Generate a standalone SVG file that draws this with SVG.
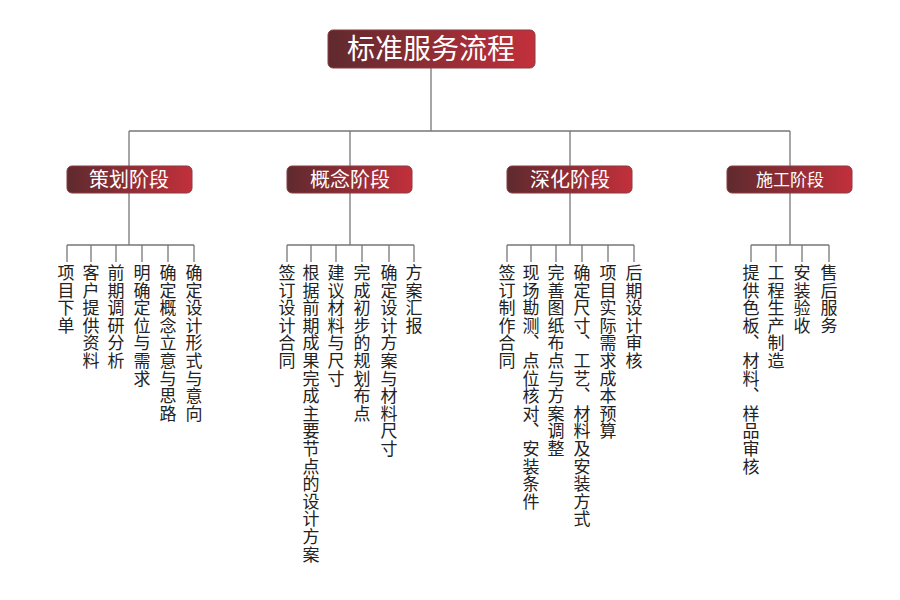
<svg xmlns="http://www.w3.org/2000/svg" width="900" height="600" viewBox="0 0 900 600">
<defs>
<linearGradient id="g" x1="0" y1="0" x2="1" y2="0"><stop offset="0" stop-color="#5e2a2e"/><stop offset="1" stop-color="#c2303b"/></linearGradient>
<style>
.box{fill:url(#g);stroke:#8a3a40;stroke-width:1}
.t{fill:#fff;font-family:"Noto Sans CJK SC",sans-serif;text-anchor:middle}
.c{font-family:"Noto Sans CJK SC",sans-serif;font-size:17px;fill:#222;writing-mode:vertical-rl;letter-spacing:0.6px}
.ln{stroke:#777;stroke-width:1.3;fill:none}
</style>
</defs>
<rect width="900" height="600" fill="#fff"/>
<g id="connectors" class="ln">
<path d="M431 68V131M129 131H790M129 131V166M350 131V166M570 131V166M790 131V166"/>
<path d="M129 193V245M67 245H194M67 245V262M91 245V262M116 245V262M142 245V262M168 245V262M194 245V262"/>
<path d="M350 193V245M287 245H414M287 245V262M311 245V262M336 245V262M362 245V262M389 245V262M414 245V262"/>
<path d="M570 193V245M507 245H634M507 245V262M531 245V262M556 245V262M582 245V262M608 245V262M634 245V262"/>
<path d="M790 193V245M751 245H829M751 245V262M776 245V262M802 245V262M829 245V262"/>
</g>
<g id="title"><rect class="box" x="328" y="30" width="207" height="38" rx="5"/><text class="t" x="431" y="59" font-size="28">标准服务流程</text></g>
<g id="p1"><rect class="box" x="67" y="166" width="125" height="27" rx="5"/><text class="t" x="129" y="187" font-size="20">策划阶段</text></g>
<g id="p2"><rect class="box" x="287" y="166" width="125" height="27" rx="5"/><text class="t" x="350" y="187" font-size="20">概念阶段</text></g>
<g id="p3"><rect class="box" x="507" y="166" width="125" height="27" rx="5"/><text class="t" x="570" y="187" font-size="20">深化阶段</text></g>
<g id="p4"><rect class="box" x="727" y="166" width="125" height="27" rx="5"/><text class="t" x="790" y="186" font-size="17">施工阶段</text></g>
<g id="c1">
<text class="c" x="66" y="264">项目下单</text>
<text class="c" x="91" y="264">客户提供资料</text>
<text class="c" x="116" y="264">前期调研分析</text>
<text class="c" x="142" y="264">明确定位与需求</text>
<text class="c" x="168" y="264">确定概念立意与思路</text>
<text class="c" x="194" y="264">确定设计形式与意向</text>
</g>
<g id="c2">
<text class="c" x="287" y="264">签订设计合同</text>
<text class="c" x="311" y="264">根据前期成果完成主要节点的设计方案</text>
<text class="c" x="336" y="264">建议材料与尺寸</text>
<text class="c" x="362" y="264">完成初步的规划布点</text>
<text class="c" x="389" y="264">确定设计方案与材料尺寸</text>
<text class="c" x="414" y="264">方案汇报</text>
</g>
<g id="c3">
<text class="c" x="507" y="264">签订制作合同</text>
<text class="c" x="531" y="264">现场勘测、点位核对、安装条件</text>
<text class="c" x="556" y="264">完善图纸布点与方案调整</text>
<text class="c" x="582" y="264">确定尺寸、工艺、材料及安装方式</text>
<text class="c" x="608" y="264">项目实际需求成本预算</text>
<text class="c" x="634" y="264">后期设计审核</text>
</g>
<g id="c4">
<text class="c" x="751" y="264">提供色板、材料、样品审核</text>
<text class="c" x="776" y="264">工程生产制造</text>
<text class="c" x="802" y="264">安装验收</text>
<text class="c" x="829" y="264">售后服务</text>
</g>
</svg>
